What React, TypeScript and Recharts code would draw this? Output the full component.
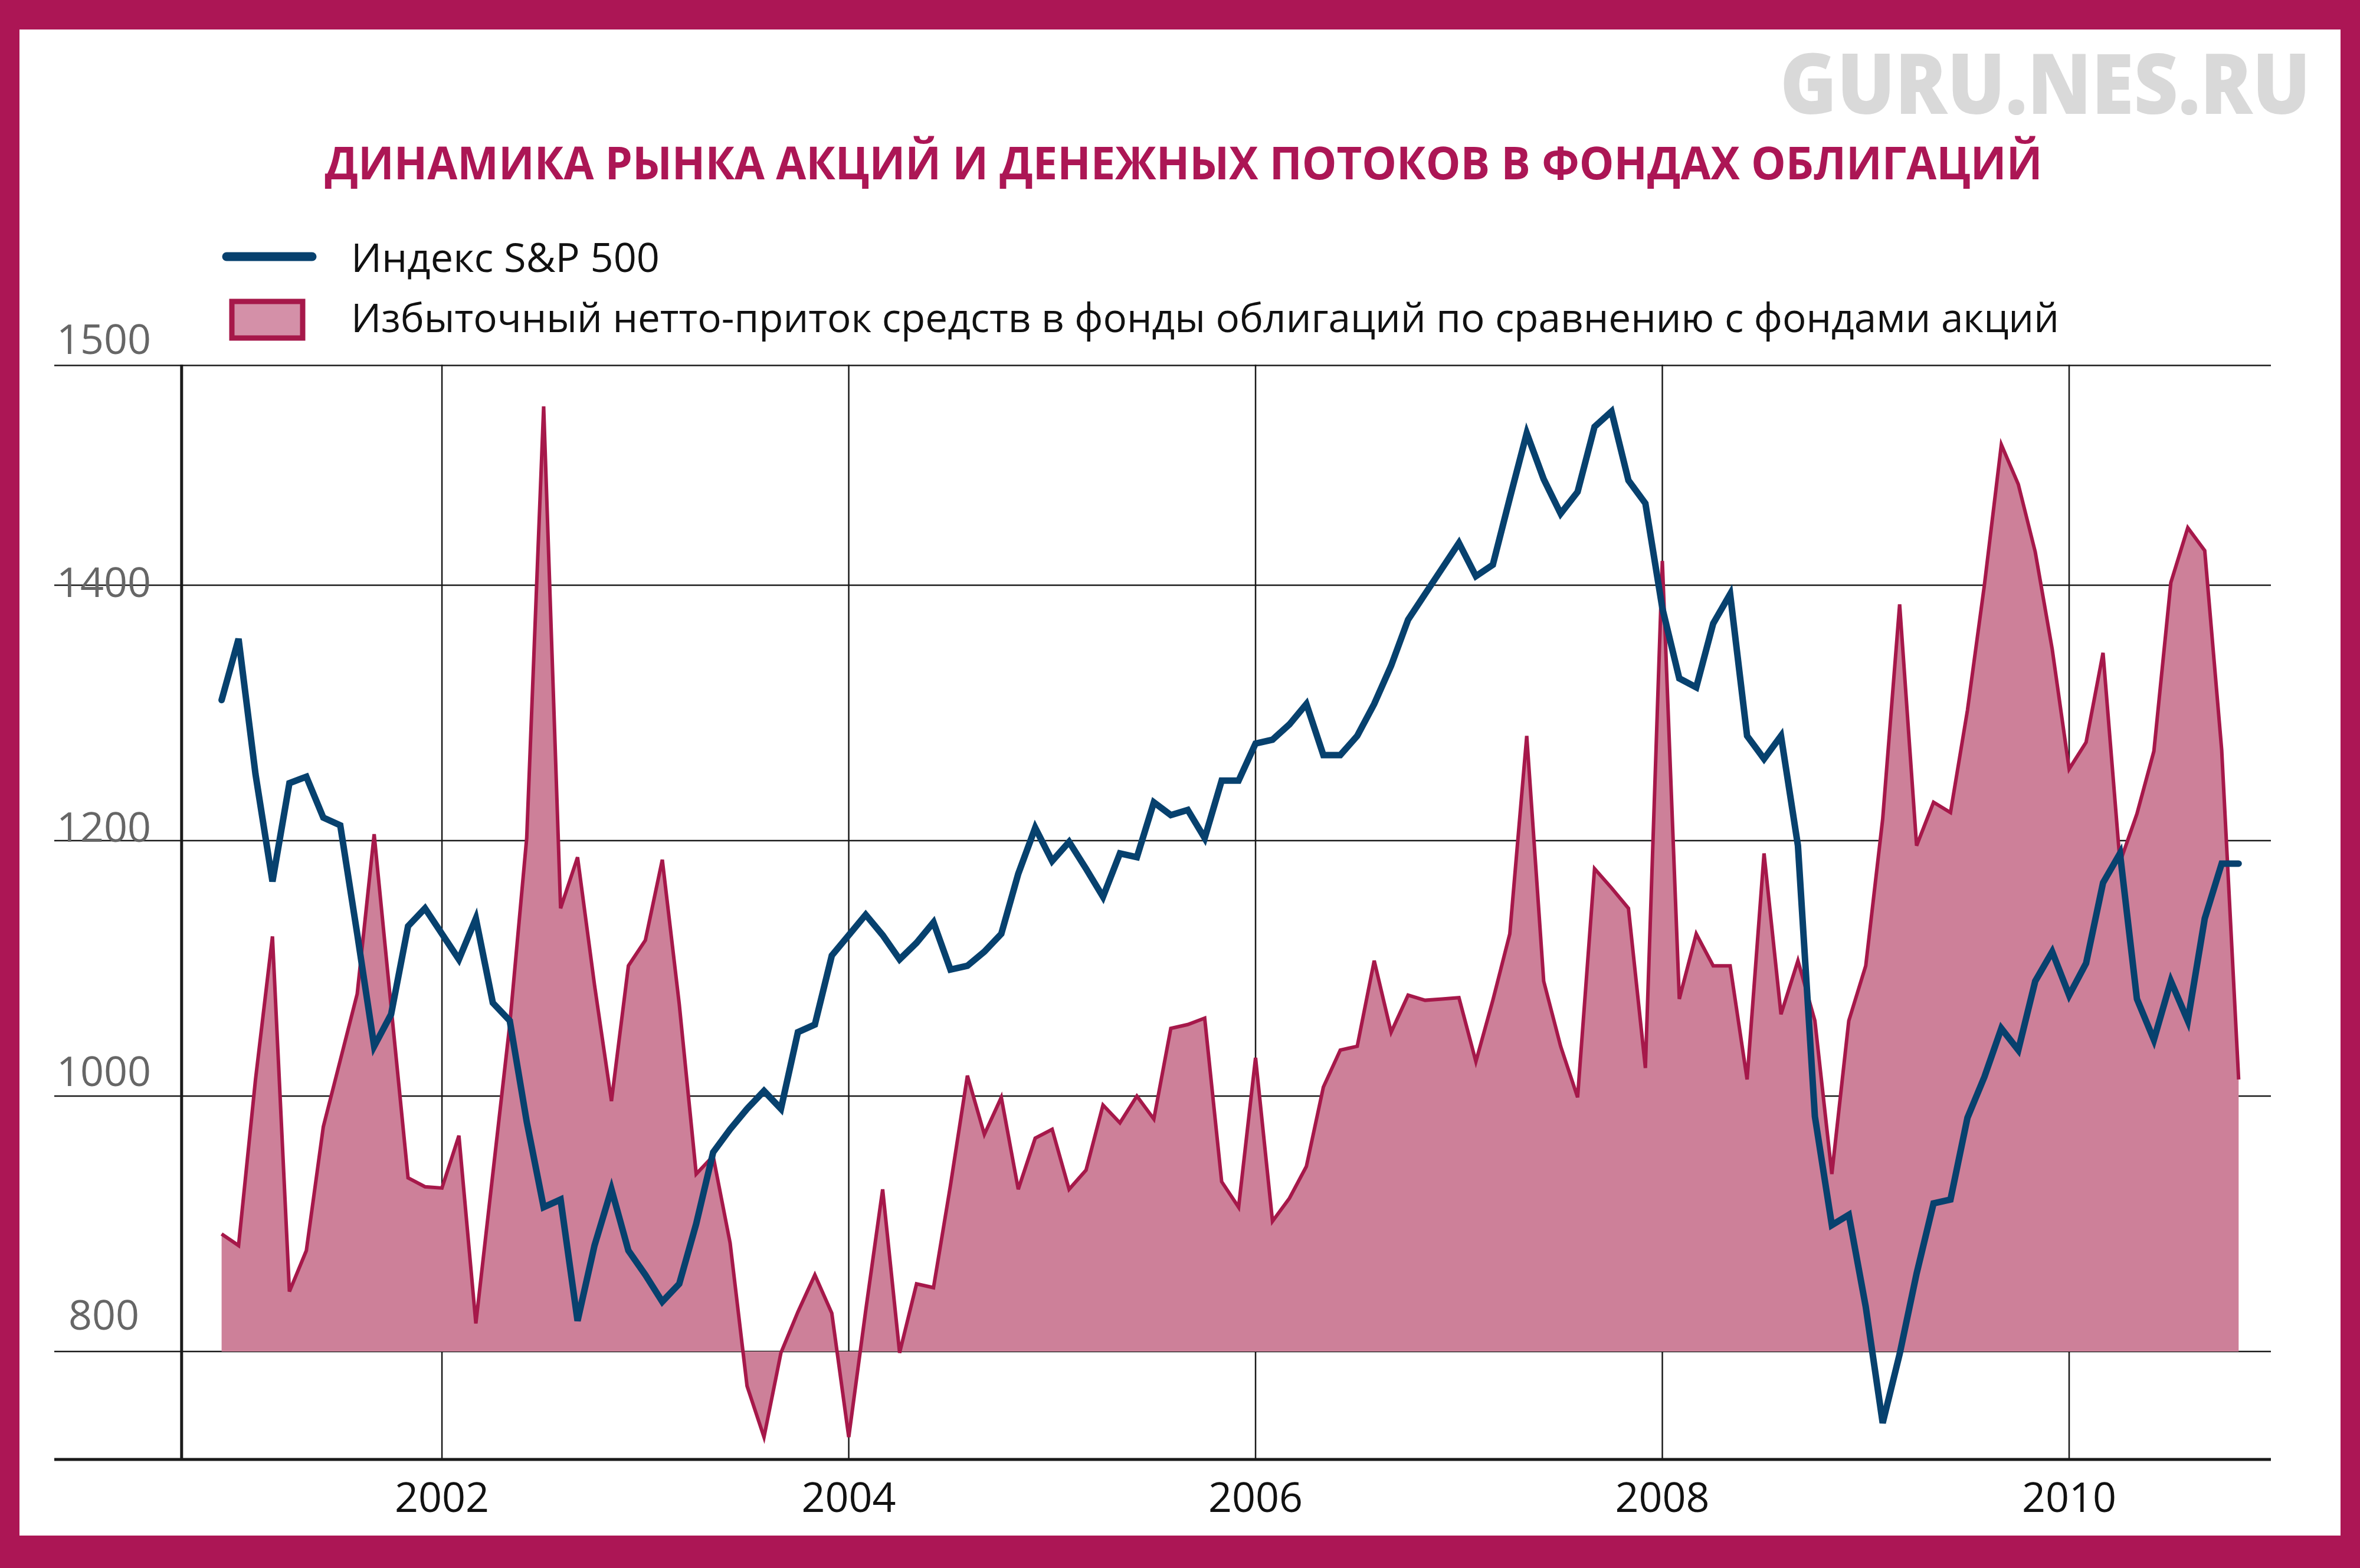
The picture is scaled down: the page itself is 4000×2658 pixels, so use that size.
import { ComposedChart, Area, Line, XAxis, YAxis, CartesianGrid, ReferenceLine } from "recharts";

// monthly points, Dec 2000 .. Nov 2010
const START_YEAR = 2000;
const START_MONTH = 11; // December (0-based)
const MONTH_COUNT = 120;

// S&P 500 index
const SPX = [
  1310, 1358, 1252, 1168, 1245, 1250, 1218, 1212, 1127, 1039,
  1064, 1133, 1147, 1127, 1107, 1139, 1073, 1059, 980, 913,
  919, 824, 883, 927, 879, 860, 839, 853, 900, 956,
  974, 990, 1004, 990, 1050, 1056, 1110, 1126, 1142, 1126,
  1107, 1120, 1136, 1099, 1102, 1113, 1127, 1174, 1210, 1184,
  1199, 1178, 1156, 1190, 1187, 1230, 1220, 1224, 1202, 1247,
  1247, 1276, 1279, 1291, 1307, 1267, 1267, 1282, 1307, 1337,
  1373, 1393, 1413, 1433, 1407, 1416, 1468, 1519, 1483, 1456,
  1473, 1524, 1536, 1482, 1464, 1382, 1327, 1320, 1370, 1393,
  1282, 1264, 1282, 1196, 984, 899, 907, 835, 744, 798,
  861, 916, 919, 983, 1015, 1053, 1036, 1090, 1113, 1079,
  1104, 1167, 1190, 1076, 1044, 1090, 1059, 1139, 1182, 1182,
];

// excess net inflow to bond funds vs equity funds (in the chart's own units, base 800)
const FLOW = [
  892, 883, 1013, 1125, 847, 879, 976, 1028, 1080, 1205,
  1070, 936, 929, 928, 969, 822, 939, 1056, 1202, 1540,
  1147, 1187, 1087, 996, 1102, 1122, 1185, 1072, 939, 953,
  885, 773, 733, 799, 831, 860, 830, 733, 832, 927,
  799, 853, 850, 930, 1016, 970, 999, 927, 967, 974,
  927, 942, 993, 979, 1000, 982, 1053, 1056, 1061, 933,
  913, 1030, 902, 920, 945, 1007, 1036, 1039, 1106, 1050,
  1079, 1075, 1076, 1077, 1027, 1075, 1127, 1282, 1090, 1039,
  999, 1178, 1163, 1147, 1022, 1419, 1076, 1127, 1102, 1102,
  1013, 1190, 1064, 1106, 1059, 939, 1059, 1102, 1217, 1385,
  1196, 1230, 1222, 1302, 1400, 1510, 1479, 1426, 1350, 1256,
  1277, 1347, 1183, 1221, 1270, 1402, 1445, 1427, 1271, 1013,
];
const FLOW_BASE = 800;

const X_TICKS = [2000.72, 2002, 2004, 2006, 2008, 2010];
const X_LABELS = ["", "2002", "2004", "2006", "2008", "2010"];
const Y_TICKS = [800, 1000, 1200, 1400, 1572];
const Y_LABELS = ["800", "1000", "1200", "1400", "1500"];

const TITLE = "ДИНАМИКА РЫНКА АКЦИЙ И ДЕНЕЖНЫХ ПОТОКОВ В ФОНДАХ ОБЛИГАЦИЙ";
const LEGEND_SPX = "Индекс S&P 500";
const LEGEND_FLOW = "Избыточный нетто-приток средств в фонды облигаций по сравнению с фондами акций";
const WATERMARK = "GURU.NES.RU";

// styles
const FRAME = "#AC1655";
const SPX_COLOR = "#07416E";
const FLOW_STROKE = "#A6184A";
const FLOW_FILL = "#CD8099";
const GRID = "#1a1a1a";
const FONT = "'Open Sans', 'Noto Sans', sans-serif";
const Y_LABEL_DY = [-64, -44, -25, -7, -47];

const rows = Array.from({ length: MONTH_COUNT }, (_, i) => ({
  t: START_YEAR + (START_MONTH + i) / 12,
  spx: SPX[i],
  flow: FLOW[i],
}));

function XTick(props: any) {
  const { x, payload } = props;
  const label = X_LABELS[X_TICKS.indexOf(payload.value)] ?? "";
  return (
    <text x={x} y={2536} textAnchor="middle" dominantBaseline="central" fontSize={70} fill="#111" fontFamily={FONT}>
      {label}
    </text>
  );
}

function YTick(props: any) {
  const { y, payload } = props;
  const idx = Y_TICKS.indexOf(payload.value);
  return (
    <text x={176} y={y + (Y_LABEL_DY[idx] ?? 0)} textAnchor="middle" dominantBaseline="central" fontSize={70} fill="#666" fontFamily={FONT}>
      {Y_LABELS[idx] ?? ""}
    </text>
  );
}

export default function App() {
  return (
    <div style={{ position: "relative", width: 4000, height: 2658, background: FRAME, fontFamily: FONT }}>
      <style>{`body{margin:0}`}</style>
      <div style={{ position: "absolute", left: 33, top: 50, right: 33, bottom: 55, background: "#fff" }} />
      <div style={{ position: "absolute", left: 0, top: 0 }}>
        <ComposedChart width={4000} height={2658} data={rows} margin={{ top: 618, right: 151, bottom: 84, left: 91 }}>
          <CartesianGrid stroke={GRID} strokeWidth={2.5} syncWithTicks />
          <XAxis
            dataKey="t"
            type="number"
            domain={[2000.094, 2010.992]}
            ticks={X_TICKS}
            interval={0}
            tick={XTick}
            axisLine={false}
            tickLine={false}
            height={100}
            allowDataOverflow
          />
          <YAxis
            type="number"
            domain={[715.5, 1572.7]}
            ticks={Y_TICKS}
            interval={0}
            tick={YTick}
            axisLine={false}
            tickLine={false}
            width={1}
            allowDataOverflow
          />
          <ReferenceLine x={2000.72} stroke={GRID} strokeWidth={5} />
          <Area
            type="linear"
            dataKey="flow"
            baseValue={FLOW_BASE}
            fill={FLOW_FILL}
            fillOpacity={1}
            stroke={FLOW_STROKE}
            strokeWidth={6}
            dot={false}
            activeDot={false}
            isAnimationActive={false}
          />
          <Line
            type="linear"
            dataKey="spx"
            stroke={SPX_COLOR}
            strokeWidth={11}
            strokeLinecap="round"
            dot={false}
            activeDot={false}
            isAnimationActive={false}
          />
          <ReferenceLine y={715.5} stroke={GRID} strokeWidth={5} ifOverflow="visible" />
        </ComposedChart>
      </div>
      <svg width={4000} height={2658} style={{ position: "absolute", left: 0, top: 0, pointerEvents: "none" }}>
        <text x={3916} y={193} textAnchor="end" fontSize={141} fontWeight={800} fill="#D9D9D9" textLength={899} lengthAdjust="spacingAndGlyphs" fontFamily={FONT}>
          {WATERMARK}
        </text>
        <text x={2006} y={304} textAnchor="middle" fontSize={77} fontWeight={700} fill={FRAME} textLength={2911} lengthAdjust="spacingAndGlyphs" fontFamily={FONT}>
          {TITLE}
        </text>
        <line x1={384} y1={435} x2={529} y2={435} stroke={SPX_COLOR} strokeWidth={15} strokeLinecap="round" />
        <text x={595} y={461} fontSize={68} fill="#111" textLength={523} lengthAdjust="spacingAndGlyphs" fontFamily={FONT}>
          {LEGEND_SPX}
        </text>
        <rect x={393} y={511} width={120} height={62} fill="#D490A8" stroke={FLOW_STROKE} strokeWidth={9} />
        <text x={595} y={563} fontSize={67} fill="#111" textLength={2895} lengthAdjust="spacingAndGlyphs" fontFamily={FONT}>
          {LEGEND_FLOW}
        </text>
      </svg>
    </div>
  );
}
